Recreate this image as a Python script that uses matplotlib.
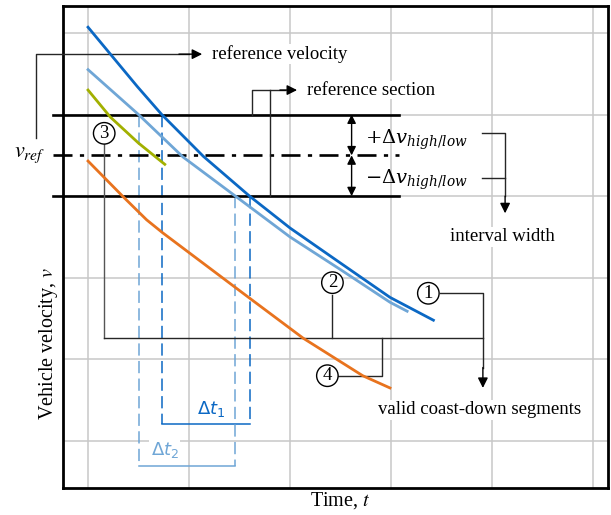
import numpy as np
import matplotlib.pyplot as plt

plt.rcParams['font.family'] = ['Liberation Serif', 'DejaVu Serif']
plt.rcParams['mathtext.fontset'] = 'stix'

# curves (time, velocity), grid spacing = 1 unit
t_1 = [1.00, 1.49, 1.73, 2.14, 2.60, 3.00, 3.50, 3.99, 4.42]
v_1 = [6.07, 5.34, 5.00, 4.49, 4.00, 3.61, 3.18, 2.76, 2.48]
t_2 = [1.00, 1.50, 1.94, 2.46, 3.00, 3.50, 3.99, 4.16]
v_2 = [5.55, 5.00, 4.48, 4.00, 3.50, 3.10, 2.70, 2.59]
t_3 = [1.00, 1.22, 1.50, 1.76]
v_3 = [5.30, 4.97, 4.65, 4.39]
t_4 = [1.00, 1.35, 1.58, 1.74, 2.46, 2.60, 3.13, 3.72, 3.99]
v_4 = [4.43, 3.99, 3.71, 3.55, 2.88, 2.75, 2.26, 1.80, 1.65]

v_ref = 4.5
dv = 0.5
# crossing times of the reference section
dt1 = [1.73, 2.60]
dt2 = [1.50, 2.46]

c_blue = '#0b68c4'
c_lblue = '#6fa6d6'
c_olive = '#a2b000'
c_orange = '#e8731e'
c_lead = '#262626'

fs = 13.5

fig = plt.figure(figsize=(6.11, 5.15), dpi=100)
ax = fig.add_axes([63 / 611, 27 / 515, 545 / 611, 482 / 515])
ax.set_xlim(0.752, 6.149)
ax.set_ylim(0.424, 6.33)
ax.set_xticks(np.arange(1, 7))
ax.set_yticks(np.arange(1, 7))
ax.tick_params(length=0, labelbottom=False, labelleft=False)
ax.grid(True, color='#c8c8c8', lw=1.1, zorder=0)
ax.set_axisbelow(True)
for s in ax.spines.values():
    s.set_linewidth(2.0)

# reference section lines
x_sec = [0.65, 4.08]
for lvl in [v_ref + dv, v_ref - dv]:
    ax.plot(x_sec, [lvl, lvl], color='black', lw=1.9, clip_on=False, zorder=3)
ax.plot(x_sec, [v_ref, v_ref], color='black', lw=1.9, clip_on=False, zorder=3,
        linestyle=(0, (7.2, 2.8, 1.6, 2.8)))

# dashed time intervals
ax.plot([dt1[0]] * 2, [v_ref + dv, 1.21], color=c_blue, lw=1.1, ls=(0, (8, 3.5)), zorder=2)
ax.plot([dt1[1]] * 2, [v_ref - dv, 1.21], color=c_blue, lw=1.1, ls=(0, (8, 3.5)), zorder=2)
ax.plot(dt1, [1.21, 1.21], color=c_blue, lw=1.1, zorder=2)
ax.plot([dt2[0]] * 2, [v_ref + dv, 0.69], color=c_lblue, lw=1.1, ls=(0, (8, 3.5)), zorder=2)
ax.plot([dt2[1]] * 2, [v_ref - dv, 0.69], color=c_lblue, lw=1.1, ls=(0, (8, 3.5)), zorder=2)
ax.plot(dt2, [0.69, 0.69], color=c_lblue, lw=1.1, zorder=2)
ax.text(2.22, 1.39, r'$\Delta t_1$', color=c_blue, fontsize=13, ha='center', va='center',
        math_fontfamily='dejavusans')
ax.text(1.76, 0.89, r'$\Delta t_2$', color=c_lblue, fontsize=13, ha='center', va='center',
        math_fontfamily='dejavusans', bbox=dict(fc='white', ec='none', pad=1), zorder=4)

# coast-down curves
ax.plot(t_1, v_1, color=c_blue, lw=2.0, zorder=5, solid_joinstyle='round')
ax.plot(t_2, v_2, color=c_lblue, lw=2.0, zorder=5, solid_joinstyle='round')
ax.plot(t_3, v_3, color=c_olive, lw=2.0, zorder=5, solid_joinstyle='round')
ax.plot(t_4, v_4, color=c_orange, lw=2.0, zorder=5, solid_joinstyle='round')

lead = dict(color=c_lead, lw=1.0, clip_on=False, zorder=3)
arrow = dict(arrowstyle='-|>', color='black', lw=1.0, mutation_scale=15, shrinkA=0, shrinkB=0)

# reference velocity
ax.text(0.58, v_ref, r'$v_{ref}$', fontsize=16, ha='right', va='center')
ax.plot([0.485, 0.485, 2.0], [4.71, 5.74, 5.74], **lead)
ax.annotate('', xy=(2.13, 5.74), xytext=(1.9, 5.74), arrowprops=arrow)
ax.text(2.23, 5.74, 'reference velocity', fontsize=fs, ha='left', va='center',
        bbox=dict(fc='white', ec='none', pad=0.5))

# reference section
ax.plot([2.62, 2.62, 2.95], [5.0, 5.30, 5.30], **lead)
ax.plot([2.80, 2.80], [4.0, 5.30], **lead)
ax.annotate('', xy=(3.07, 5.30), xytext=(2.9, 5.30), arrowprops=arrow)
ax.text(3.17, 5.30, 'reference section', fontsize=fs, ha='left', va='center',
        bbox=dict(fc='white', ec='none', pad=0.5))

# interval width
darrow = dict(arrowstyle='<|-|>', color='black', lw=1.0, mutation_scale=13, shrinkA=0, shrinkB=0)
ax.annotate('', xy=(3.61, v_ref + dv), xytext=(3.61, v_ref), arrowprops=darrow, zorder=4)
ax.annotate('', xy=(3.61, v_ref), xytext=(3.61, v_ref - dv), arrowprops=darrow, zorder=4)
ax.text(3.74, 4.69, r'$+\Delta v_{high/low}$', fontsize=14, ha='left', va='center',
        math_fontfamily='dejavuserif')
ax.text(3.74, 4.20, r'$-\Delta v_{high/low}$', fontsize=14, ha='left', va='center',
        math_fontfamily='dejavuserif')
ax.plot([4.90, 5.13, 5.13], [4.77, 4.77, 4.0], **lead)
ax.plot([4.90, 5.13], [4.22, 4.22], **lead)
ax.annotate('', xy=(5.13, 3.79), xytext=(5.13, 4.0), arrowprops=arrow)
ax.text(5.10, 3.50, 'interval width', fontsize=fs, ha='center', va='center',
        bbox=dict(fc='white', ec='none', pad=1))

# valid segments
circ = dict(boxstyle='circle,pad=0.12', fc='white', ec='black', lw=1.0)
ax.plot([1.16, 1.16], [4.65, 2.26], color='#555555', lw=1.0, zorder=3)
ax.plot([1.16, 4.91], [2.26, 2.26], **lead)
ax.plot([3.42, 3.42], [2.79, 2.26], **lead)
ax.plot([4.49, 4.91, 4.91], [2.81, 2.81, 1.9], **lead)
ax.annotate('', xy=(4.91, 1.65), xytext=(4.91, 1.9), arrowprops=arrow)
ax.plot([3.47, 3.91, 3.91], [1.80, 1.80, 2.26], **lead)
for lab, x, y in [('3', 1.16, 4.77), ('2', 3.42, 2.94), ('1', 4.37, 2.81), ('4', 3.37, 1.80)]:
    ax.text(x, y, lab, fontsize=13.5, ha='center', va='center', bbox=circ, zorder=6)
ax.text(4.88, 1.38, 'valid coast-down segments', fontsize=fs, ha='center', va='center',
        bbox=dict(fc='white', ec='none', pad=1))

ax.set_xlabel('Time, $t$', fontsize=14.5)
ax.set_ylabel('Vehicle velocity, $v$', fontsize=14.5)
ax.xaxis.label.set_verticalalignment('center')
ax.yaxis.label.set_verticalalignment('center')
ax.xaxis.set_label_coords(0.508, -0.025)
ax.yaxis.set_label_coords(-0.026, 0.30)

fig.savefig('out.png', dpi=100)
